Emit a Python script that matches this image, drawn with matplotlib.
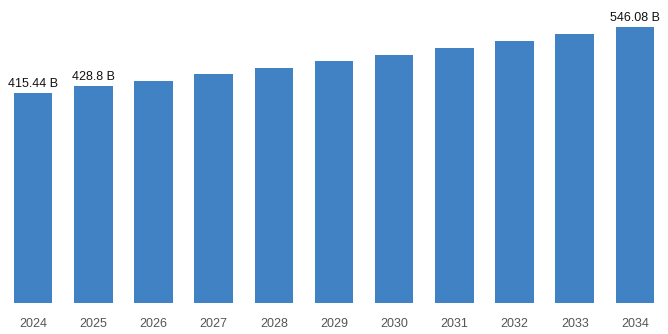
import matplotlib
matplotlib.use("Agg")
import matplotlib.pyplot as plt

plt.rcParams["font.family"] = ["Liberation Sans", "DejaVu Sans"]

years = ["2024", "2025", "2026", "2027", "2028", "2029", "2030", "2031", "2032", "2033", "2034"]
values = [415.44, 428.8, 440.5, 453.0, 465.8, 478.8, 491.5, 504.5, 518.0, 531.7, 546.08]
labeled = {0: "415.44 B", 1: "428.8 B", 10: "546.08 B"}

BAR_COLOR = "#4182c5"

fig = plt.figure(figsize=(6.68, 3.34), dpi=100)
ax = fig.add_axes([0, 31 / 334, 1, 303 / 334])

x = list(range(len(years)))
ax.bar(x, values, width=0.64, color=BAR_COLOR)

for i, txt in labeled.items():
    ax.text(i, values[i] + 6, txt, ha="center", va="bottom", fontsize=9, color="#111111")

ax.set_xlim(-0.55, 10.55)
ax.set_ylim(0, 600)
ax.set_xticks(x)
ax.set_xticklabels(years, fontsize=9, color="#555555")
ax.tick_params(axis="x", length=0, pad=11)
ax.set_yticks([])
for s in ax.spines.values():
    s.set_visible(False)

fig.savefig("out.png", dpi=100)
